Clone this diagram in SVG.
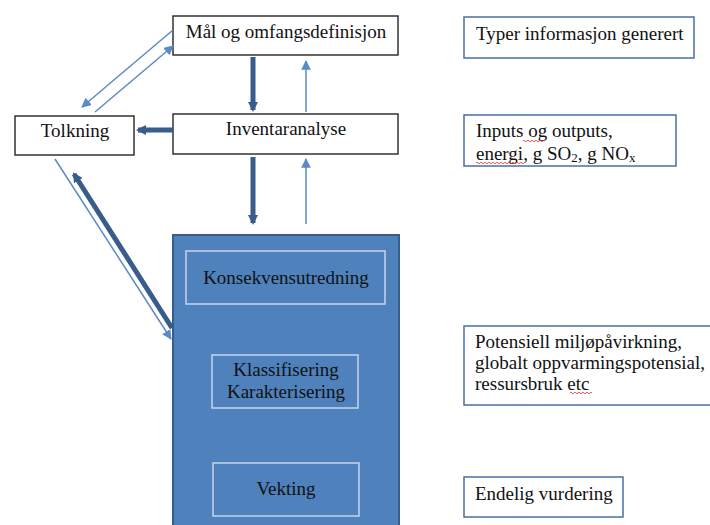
<svg xmlns="http://www.w3.org/2000/svg" width="710" height="525" viewBox="0 0 710 525">
<style>
.box{fill:#fff;stroke:#333;stroke-width:1.5}
.info{fill:#fff;stroke:#4a6fa5;stroke-width:1.5}
.inner{fill:none;stroke:#c6d5ea;stroke-width:1.5}
.t{font-family:"Liberation Serif","Times New Roman",serif;font-size:19px;fill:#111}
.c{text-anchor:middle}
.thick{stroke:#385d8a;stroke-width:5;fill:none}
.thin{stroke:#5b8ac6;stroke-width:1.5;fill:none}
.wave{stroke:#e03030;stroke-width:0.8;fill:none}
</style>
<defs>
<marker id="hd" viewBox="0 0 10 10" refX="8" refY="5" markerWidth="2" markerHeight="2" orient="auto" markerUnits="strokeWidth">
<path d="M0,0 L10,5 L0,10 z" fill="#385d8a"/>
</marker>
<marker id="hl" viewBox="0 0 10 10" refX="9" refY="5" markerWidth="6.5" markerHeight="6.5" orient="auto" markerUnits="strokeWidth">
<path d="M0,0 L10,5 L0,10 z" fill="#5b8ac6"/>
</marker>
</defs>

<g id="mal">
<rect class="box" x="173" y="16" width="225" height="39"/>
<text class="t c" x="286" y="38">Mål og omfangsdefinisjon</text>
</g>
<g id="tolkning">
<rect class="box" x="15" y="116" width="119" height="39"/>
<text class="t c" x="75" y="137">Tolkning</text>
</g>
<g id="inventar">
<rect class="box" x="173" y="114" width="225" height="40"/>
<text class="t c" x="286" y="135">Inventaranalyse</text>
</g>
<g id="konsekvens-gruppe">
<rect x="173" y="235" width="226" height="300" fill="#4f81bd" stroke="#385d8a" stroke-width="2"/>
</g>
<g id="konsekvensutredning">
<rect class="inner" x="186" y="251" width="199" height="53"/>
<text class="t c" x="286" y="284">Konsekvensutredning</text>
</g>
<g id="klassifisering">
<rect class="inner" x="212" y="355" width="146" height="53"/>
<text class="t c" x="286" y="376">Klassifisering</text>
<text class="t c" x="286" y="398">Karakterisering</text>
</g>
<g id="vekting">
<rect class="inner" x="213" y="463" width="146" height="53"/>
<text class="t c" x="286" y="495">Vekting</text>
</g>

<g id="typer">
<rect class="info" x="464" y="17" width="230" height="41"/>
<text class="t" x="476" y="40">Typer informasjon generert</text>
</g>
<g id="inputs">
<rect class="info" x="464" y="115" width="212" height="51"/>
<text class="t" x="476" y="137">Inputs og outputs,</text>
<text class="t" x="476" y="160">energi, g SO<tspan font-size="13" dy="2">2</tspan><tspan dy="-2">, g NO</tspan><tspan font-size="13" dy="2">x</tspan></text>
<path class="wave" d="M523,141 q1,-1.5 2,0 t2,0 t2,0 t2,0 t2,0 t2,0 t2,0 t2,0 t2,0 t2,0 t2,0"/>
<path class="wave" d="M476,163 q1,-1.5 2,0 t2,0 t2,0 t2,0 t2,0 t2,0 t2,0 t2,0 t2,0 t2,0 t2,0 t2,0 t2,0 t2,0 t2,0 t2,0 t2,0 t2,0 t2,0 t2,0 t2,0 t2,0 t2,0 t2,0"/>
</g>
<g id="potensiell">
<rect class="info" x="464" y="326" width="260" height="79"/>
<text class="t" x="475" y="348">Potensiell miljøpåvirkning,</text>
<text class="t" x="475" y="369">globalt oppvarmingspotensial,</text>
<text class="t" x="475" y="390">ressursbruk etc</text>
<path class="wave" d="M570,393 q1,-1.5 2,0 t2,0 t2,0 t2,0 t2,0 t2,0 t2,0 t2,0 t2,0 t2,0 t2,0"/>
</g>
<g id="endelig">
<rect class="info" x="464" y="477" width="159" height="40"/>
<text class="t" x="475" y="500">Endelig vurdering</text>
</g>

<g id="connectors">
<line class="thick" x1="253" y1="57" x2="253" y2="110" marker-end="url(#hd)"/>
<line class="thin" x1="306" y1="112" x2="306" y2="61" marker-end="url(#hl)"/>
<line class="thick" x1="253" y1="157" x2="253" y2="223" marker-end="url(#hd)"/>
<line class="thin" x1="306" y1="224" x2="306" y2="159" marker-end="url(#hl)"/>
<line class="thick" x1="173" y1="130" x2="138" y2="130" marker-end="url(#hd)"/>
<line class="thin" x1="173" y1="30" x2="82" y2="107" marker-end="url(#hl)"/>
<line class="thin" x1="95" y1="112" x2="173" y2="46" marker-end="url(#hl)"/>
<line class="thick" x1="172" y1="328" x2="74" y2="174" marker-end="url(#hd)"/>
<line class="thin" x1="55" y1="159" x2="171" y2="339" marker-end="url(#hl)"/>
</g>
</svg>
